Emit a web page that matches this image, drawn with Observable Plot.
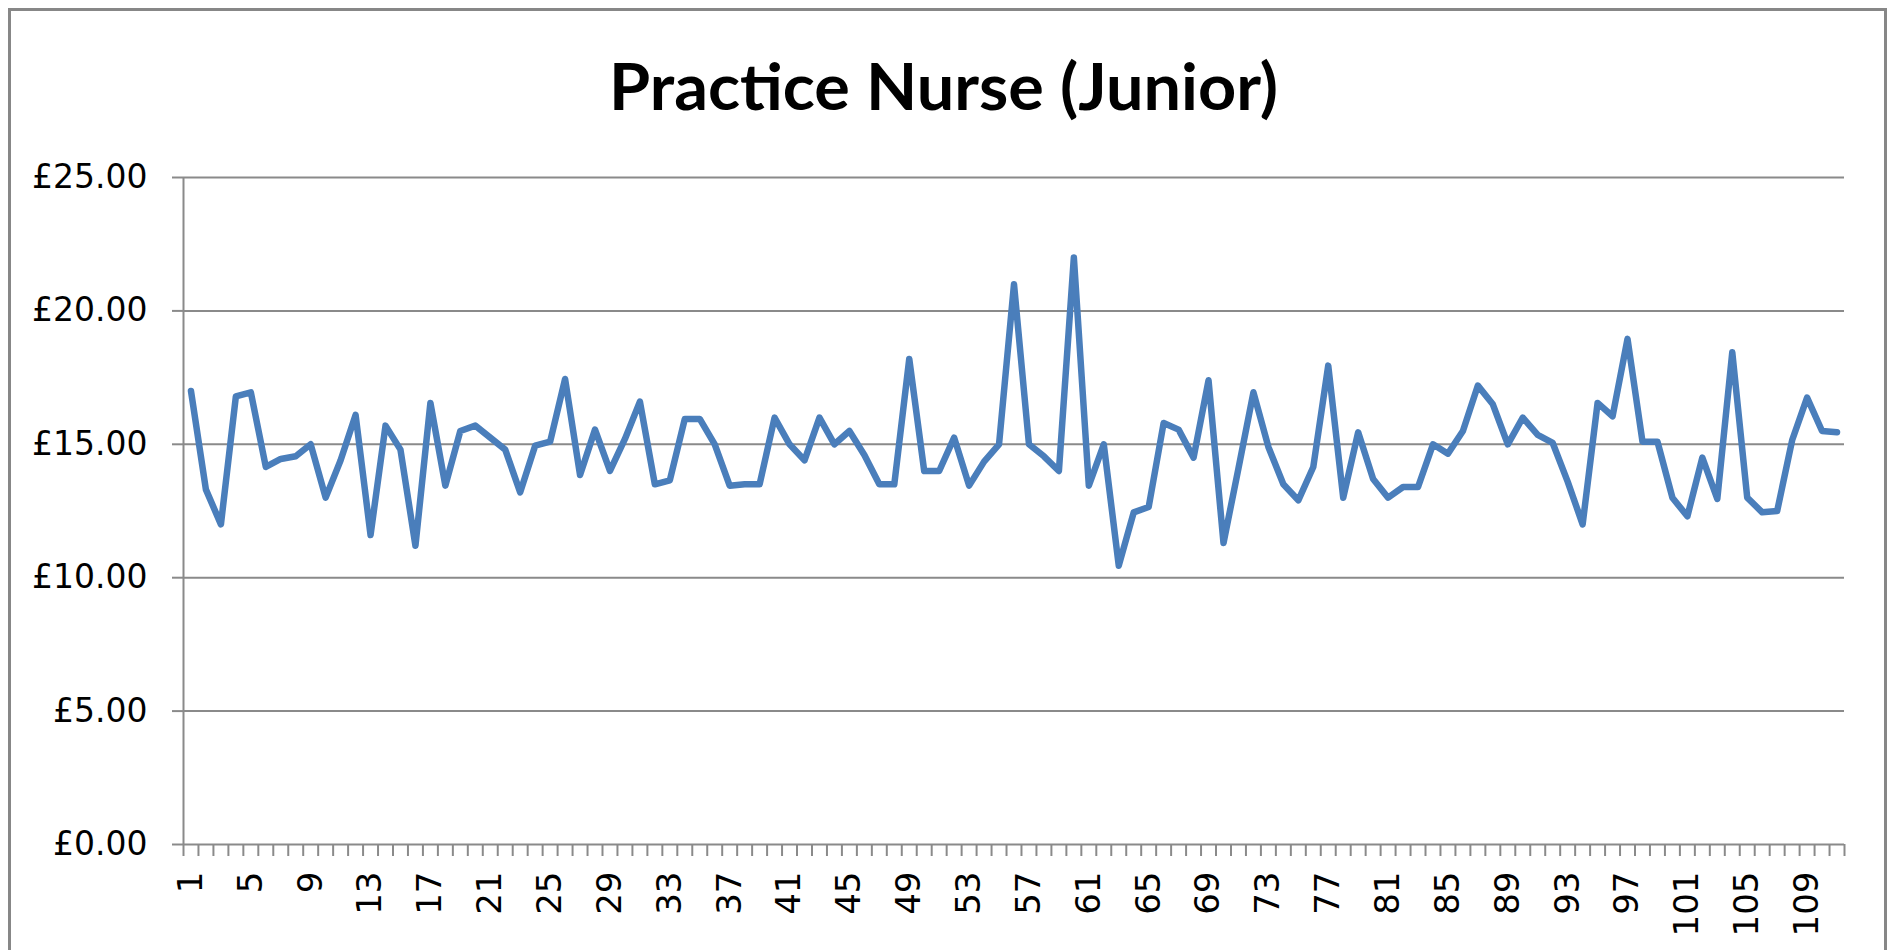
<!DOCTYPE html>
<html><head><meta charset="utf-8">
<script src="https://cdn.jsdelivr.net/npm/d3@7"></script>
<script src="https://cdn.jsdelivr.net/npm/@observablehq/plot@0.6"></script>
<style>
html,body{margin:0;padding:0;background:#fff;}
#page{position:relative;width:1888px;height:950px;overflow:hidden;background:#fff;}
#border{position:absolute;left:7.5px;top:7.5px;width:1879.5px;height:1000px;box-sizing:border-box;border:3px solid #878787;pointer-events:none;}
#titlebox{position:relative;height:140px;}
#title{position:absolute;left:0;width:1888px;top:53px;text-align:center;font-family:Lato, "Open Sans", sans-serif;font-weight:700;font-size:65px;line-height:65px;color:#000;white-space:nowrap;}
#title span{display:inline-block;transform-origin:50% 50%;}
#chart svg{display:block;}
</style></head>
<body><div id="page"><div id="titlebox"><div id="title"><span id="titletext">Practice Nurse (Junior)</span></div></div><div id="chart"></div><div id="border"></div></div>
<script>
const hourlyRates = [
  17.0, 13.3, 12.0, 16.8, 16.95, 14.15, 14.45, 14.55, 15.0, 13.0,
  14.4, 16.1, 11.6, 15.7, 14.8, 11.2, 16.55, 13.45, 15.5, 15.7,
  15.25, 14.8, 13.2, 14.95, 15.1, 17.45, 13.85, 15.55, 14.0, 15.2,
  16.6, 13.5, 13.65, 15.95, 15.95, 15.0, 13.45, 13.5, 13.5, 16.0,
  15.0, 14.4, 16.0, 15.0, 15.5, 14.6, 13.5, 13.5, 18.2, 14.0,
  14.0, 15.25, 13.45, 14.35, 15.0, 21.0, 15.0, 14.55, 14.0, 22.0,
  13.45, 15.0, 10.45, 12.45, 12.65, 15.8, 15.55, 14.5, 17.4, 11.3,
  14.1, 16.95, 14.9, 13.5, 12.9, 14.15, 17.95, 13.0, 15.45, 13.7,
  13.0, 13.4, 13.4, 15.0, 14.65, 15.5, 17.2, 16.5, 15.0, 16.0,
  15.35, 15.05, 13.6, 12.0, 16.55, 16.05, 18.95, 15.1, 15.1, 13.0,
  12.3, 14.5, 12.95, 18.45, 13.0, 12.45, 12.5, 15.15, 16.75, 15.5,
  15.45
];
const categories = hourlyRates.map((_, i) => i + 1);
const xTickLabels = [1, 5, 9, 13, 17, 21, 25, 29, 33, 37, 41, 45, 49, 53, 57, 61, 65, 69, 73, 77, 81, 85, 89, 93, 97, 101, 105, 109];
const yTicks = [0, 5, 10, 15, 20, 25];

const data = categories.map((c, i) => ({category: c, rate: hourlyRates[i]}));
const boundaries = [0.5, ...categories.map(c => c + 0.5)];
const grey = "#8a8a8a";

const chart = Plot.plot({
  width: 1888, height: 810,
  marginTop: 37, marginBottom: 106, marginLeft: 183, marginRight: 44,
  style: {fontFamily: "'DejaVu Sans', sans-serif", fontSize: "33px", color: "#000", background: "transparent"},
  x: {type: "linear", domain: [0.5, categories.length + 0.5], label: null},
  y: {domain: [0, 25], label: null},
  marks: [
    Plot.ruleY(yTicks, {stroke: grey, strokeWidth: 2}),
    Plot.ruleX([0.5], {y1: 0, y2: 25, stroke: grey, strokeWidth: 2}),
    Plot.axisY({ticks: yTicks, tickSize: 11, tickPadding: 25, stroke: grey, strokeWidth: 2, fill: "#000", fontSize: 33, label: null, tickFormat: d => "£" + d.toFixed(2)}),
    Plot.axisX({ticks: boundaries, tickSize: 12, stroke: grey, strokeWidth: 2, label: null, tickFormat: () => ""}),
    Plot.axisX({ticks: xTickLabels, tickSize: 0, tickPadding: 27, tickRotate: -90, fill: "#000", fontSize: 34, label: null, tickFormat: d => String(d)}),
    Plot.line(data, {x: "category", y: "rate", stroke: "#4A7EBB", strokeWidth: 6.5, strokeLinejoin: "round", strokeLinecap: "round"})
  ]
});
document.getElementById("chart").appendChild(chart);

function fitTitle() {
  const s = document.getElementById("titletext");
  s.style.transform = "none";
  const w = s.getBoundingClientRect().width;
  if (w > 0) s.style.transform = "scaleX(" + (669 / w) + ")";
}
fitTitle();
if (document.fonts && document.fonts.ready) document.fonts.ready.then(fitTitle);
</script>
</body></html>
